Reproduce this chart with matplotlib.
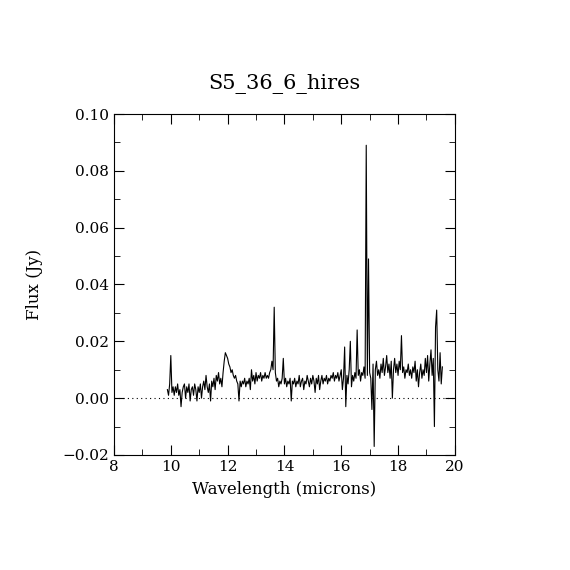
import numpy as np
import matplotlib
matplotlib.use("Agg")
import matplotlib.pyplot as plt
from matplotlib.ticker import MultipleLocator, FuncFormatter

wave_min, wave_max = 9.88, 19.56
flux_mjy = [
    3, 1, 5, 15, 2, 4, 1, 4, 2, 5, 1, 3, -3, 2, 4, 5, 0, 4, 2, 5,
    -1, 3, 4, 1, 5, 3, -1, 4, 2, 5, 0, 4, 6, 3, 8, 4, 2, 5, -1, 6,
    4, 7, 3, 8, 6, 9, 5, 7, 4, 9, 13, 16, 15, 14, 12, 11, 9, 10, 8, 7,
    8, 6, 5, -1, 6, 4, 6, 5, 7, 4, 6, 5, 7, 3, 10, 6, 8, 5, 9, 6,
    8, 7, 9, 6, 8, 7, 9, 7, 8, 7, 9, 10, 13, 10, 32, 9, 6, 7, 4, 6,
    5, 7, 14, 5, 7, 4, 6, 5, 7, -1, 6, 5, 7, 4, 6, 5, 8, 4, 6, 7,
    3, 6, 5, 8, 6, 4, 7, 5, 8, 6, 2, 7, 5, 8, 3, 6, 8, 5, 7, 6,
    8, 5, 7, 6, 8, 7, 9, 6, 8, 7, 9, 6, 8, 10, 3, 7, 18, -3, 8, 5,
    10, 20, 4, 8, 6, 9, 7, 24, 8, 10, 6, 9, 8, 11, 7, 89, 8, 49, 9, 7,
    -4, 12, -17, 10, 13, 8, 10, 7, 12, 9, 14, 8, 11, 15, 9, 12, 7, 13, 0, 10,
    14, 9, 12, 8, 13, 10, 22, 9, 11, 7, 10, 9, 12, 8, 10, 7, 11, 9, 13, 6,
    10, 4, 9, 12, 7, 10, 8, 14, 9, 15, 6, 12, 17, 8, 14, -10, 25, 31, 10, 6,
    16, 5, 11,
]
title = "S5_36_6_hires"

wave = np.linspace(wave_min, wave_max, len(flux_mjy))
flux = np.array(flux_mjy) / 1000.0

plt.rcParams["font.family"] = ["DejaVu Serif"]

fig = plt.figure(figsize=(5.7, 5.7), dpi=100)
ax = fig.add_axes([0.2, 0.2018, 0.598, 0.5982])

ax.plot(wave, flux, color="black", lw=0.8)
ax.axhline(0.0, color="black", lw=0.8, linestyle=(0, (1, 3)))

ax.set_xlim(8, 20)
ax.set_ylim(-0.02, 0.10)
ax.xaxis.set_major_locator(MultipleLocator(2))
ax.xaxis.set_minor_locator(MultipleLocator(1))
ax.yaxis.set_major_locator(MultipleLocator(0.02))
ax.yaxis.set_minor_locator(MultipleLocator(0.01))
ax.yaxis.set_major_formatter(FuncFormatter(lambda v, p: f"{v:.2f}".replace("-", "\u2212") if abs(v) > 1e-9 else "0.00"))
ax.tick_params(which="both", direction="in", top=True, right=True, labelsize=11)
ax.tick_params(which="major", length=7)
ax.tick_params(which="minor", length=4)
for s in ax.spines.values():
    s.set_linewidth(0.8)

ax.set_xlabel("Wavelength (microns)", fontsize=12, labelpad=5)
ax.set_ylabel("Flux (Jy)", fontsize=12, labelpad=14)
ax.set_title(title, fontsize=15, pad=18)

fig.savefig("out.png", dpi=100)
